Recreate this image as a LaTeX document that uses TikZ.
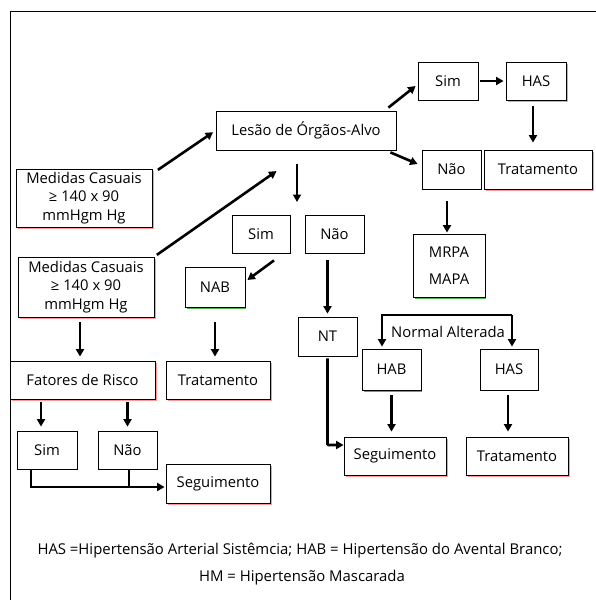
\documentclass[tikz,border=0pt]{standalone}
\usepackage{fontspec}
\setmainfont{Open Sans}
\usetikzlibrary{arrows.meta}

\begin{document}
\begin{tikzpicture}[x = 1pt, y = -1pt,
        box/.style = {draw, line width = .8pt, inner sep = 0pt, align = center,
            font = \fontsize{14.8}{18.5}\selectfont},
        redshade/.style = {append after command = {\pgfextra{\draw [red!40, line width = .5pt]
            ([shift = {(1.1, 2)}]\tikzlastnode.north east) -- ([shift = {(1.1, 1.1)}]\tikzlastnode.south east)
            -- ([shift = {(2, 1.1)}]\tikzlastnode.south west);}}},
        greenshade/.style = {append after command = {\pgfextra{\draw [green!60!black!70, line width = .5pt]
            ([shift = {(1, 1.1)}]\tikzlastnode.south east) -- ([shift = {(2, 1.1)}]\tikzlastnode.south west);}}},
        arr/.style = {line width = 2.6pt, -{Triangle[length = 7.5pt, width = 8pt]}},
        note/.style = {inner sep = 0pt, font = \fontsize{14.9}{16}\selectfont}]
    \useasboundingbox (0, 0) rectangle (595, 600);
    \draw [line width = .8pt] (10, 11) rectangle (620, 620);

    % left column
    \node [box, redshade, minimum width = 136, minimum height = 58] (casuais1) at (84, 198)
        {Medidas Casuais\\≥ 140 x 90\\mmHgm Hg};
    \node [box, redshade, minimum width = 136, minimum height = 60] (casuais2) at (86, 287)
        {Medidas Casuais\\≥ 140 x 90\\mmHgm Hg};
    \node [box, redshade, minimum width = 145, minimum height = 38] (fatores) at (82.5, 380) {Fatores de Risco};
    \node [box, minimum width = 60, minimum height = 38] (simB) at (47, 450) {Sim};
    \node [box, minimum width = 59, minimum height = 38] (naoB) at (127.5, 450) {Não};
    \node [box, redshade, minimum width = 104, minimum height = 39] (segB) at (218, 483.5) {Seguimento};

    % middle
    \node [box, minimum width = 180, minimum height = 39] (lesao) at (306, 130.5) {Lesão de Órgãos-Alvo};
    \node [box, minimum width = 58, minimum height = 38] (simM) at (261, 234) {Sim};
    \node [box, greenshade, minimum width = 60, minimum height = 40] (nab) at (215, 287) {NAB};
    \node [box, redshade, minimum width = 104, minimum height = 38] (trat1) at (218, 380) {Tratamento};
    \node [box, minimum width = 59, minimum height = 38] (naoM) at (334.5, 234) {Não};
    \node [box, minimum width = 59, minimum height = 39] (nt) at (327.5, 336.5) {NT};

    % right
    \node [box, minimum width = 60, minimum height = 38] (simR) at (448, 81) {Sim};
    \node [box, redshade, minimum width = 60, minimum height = 38] (hasR) at (536, 81) {HAS};
    \node [box, minimum width = 59, minimum height = 39] (naoR) at (451.5, 169.5) {Não};
    \node [box, redshade, minimum width = 108, minimum height = 39] (tratR) at (538, 169.5) {Tratamento};
    \node [box, greenshade, minimum width = 72, minimum height = 63] (mrpa) at (449, 265.5)
        {MRPA\\[9pt]MAPA};
    \node [box, greenshade, minimum width = 59, minimum height = 41] (hab) at (391.5, 369.5) {HAB};
    \node [box, minimum width = 58, minimum height = 41] (hasL) at (509, 369.5) {HAS};
    \node [box, redshade, minimum width = 102, minimum height = 38] (segR) at (395, 456) {Seguimento};
    \node [box, redshade, minimum width = 102, minimum height = 38] (tratL) at (517, 456) {Tratamento};

    \node [inner sep = 0pt, font = \fontsize{14.8}{16}\selectfont] (resultado) at (448, 332) {Normal Alterada};
    \coordinate (normal) at (382, 315);
    \coordinate (alterada) at (512, 315);
    \coordinate (fork) at (297, 202);
    \coordinate (junta) at (129, 487);

    % arrows
    \draw [arr, shorten < = 3pt, shorten > = 3pt] ([shift = {(3, 3)}]casuais1.north east) -- (lesao.west);
    \draw [arr, shorten < = 3pt, shorten > = 36pt] (casuais2.north east) -- (lesao.south);
    \draw [arr] ([shift = {(0, 14)}]lesao.south -| fork) -- (fork);
    \draw [arr] ([shift = {(-8, -3)}]lesao.north east) -- ([shift = {(-2, 5)}]simR.west);
    \draw [arr] ([shift = {(-6, 2)}]lesao.south east) -- ([shift = {(-4, -5.5)}]naoR.west);
    \draw [arr, shorten < = 2pt, shorten > = 2pt] (simR.east) -- (hasR.west);
    \draw [arr, shorten < = 6pt, shorten > = 7pt] ([xshift = -3pt]hasR.south) -- ([xshift = -3pt]hasR.south |- tratR.north);
    \draw [arr, shorten < = 12pt, shorten > = 1pt] ([xshift = -4.5pt]naoR.south) -- ([xshift = -4.5pt]naoR.south |- mrpa.north);
    \draw [arr] ([shift = {(13, 7)}]simM.south) -- ([shift = {(2, -7)}]nab.east);
    \draw [arr, shorten < = 7pt, shorten > = 3pt] (naoM.south -| nt.north) -- (nt.north);
    \draw [arr, shorten < = 2pt, rounded corners = 1pt] (nt.south) |- ([shift = {(0, -11)}]segR.west);
    \draw [arr, shorten > = 2pt] (alterada) -- (normal) -- (normal |- hab.north);
    \draw [arr, shorten > = 2pt] (alterada) -- (alterada |- hasL.north);
    \draw [arr, shorten < = 5pt, shorten > = 5pt] (hab.south) -- (hab.south |- segR.north);
    \draw [arr, shorten < = 5pt, shorten > = 5pt] ([xshift = -1pt]hasL.south) -- ([xshift = -1pt]hasL.south |- tratL.north);
    \draw [arr, shorten < = 5pt, shorten > = 4pt] ([xshift = -6pt]casuais2.south) -- ([xshift = -6pt]casuais2.south |- fatores.north);
    \draw [arr, shorten < = 15pt, shorten > = 4pt] (nab.south) -- (nab.south |- trat1.north);
    \draw [arr, shorten < = 3pt, shorten > = 4pt] ([xshift = -6pt]simB.north |- fatores.south) -- ([xshift = -6pt]simB.north);
    \draw [arr, shorten < = 3pt, shorten > = 4pt] (naoB.north |- fatores.south) -- (naoB.north);
    \draw [arr, shorten > = 1pt] ([xshift = -16pt]simB.south) |- ([shift = {(0, 3.5)}]segB.west);
    \draw [line width = 2.6pt] (naoB.south -| junta) -- (junta);

    \node [note] (legenda1) at (300, 551)
        {HAS =Hipertensão Arterial Sistêmcia; HAB = Hipertensão do Avental Branco;};
    \node [note] (legenda2) at (302, 578) {HM = Hipertensão Mascarada};
\end{tikzpicture}
\end{document}
